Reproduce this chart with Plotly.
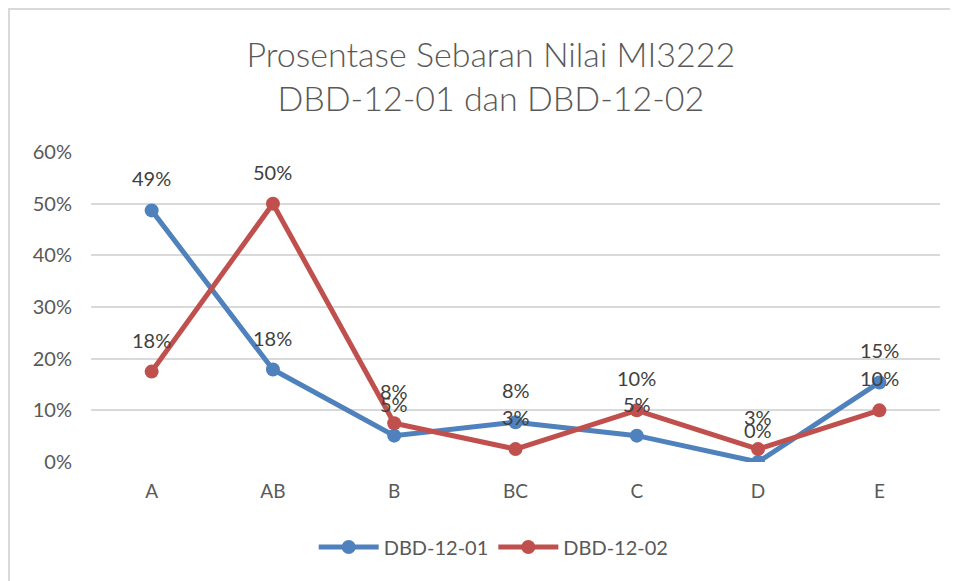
import plotly.graph_objects as go

categories = ["A", "AB", "B", "BC", "C", "D", "E"]
series1_name = "DBD-12-01"
series1 = [0.487, 0.179, 0.051, 0.077, 0.051, 0.0, 0.154]
series2_name = "DBD-12-02"
series2 = [0.175, 0.50, 0.075, 0.025, 0.10, 0.025, 0.10]
y_ticks = [0, 0.1, 0.2, 0.3, 0.4, 0.5, 0.6]

blue = "#4F81BD"
red = "#C0504D"
gray_text = "#595959"
font_family = "Lato, 'Liberation Sans', sans-serif"

fig = go.Figure()
for name, vals, col in [(series1_name, series1, blue), (series2_name, series2, red)]:
    fig.add_trace(go.Scatter(
        x=categories, y=vals, name=name, mode="lines+markers",
        line=dict(color=col, width=5),
        marker=dict(color=col, size=14),
        hoverinfo="skip",
    ))

annotations = []
for vals in [series1, series2]:
    for c, v in zip(categories, vals):
        annotations.append(dict(
            x=c, y=v, xref="x", yref="y", text=f"{int(v * 100 + 0.5)}%",
            showarrow=False, yshift=32,
            font=dict(family=font_family, size=20, color="#404040"),
        ))

fig.update_layout(
    width=958, height=581,
    margin=dict(l=83, r=26, t=144, b=127),
    paper_bgcolor="white", plot_bgcolor="white",
    title=dict(
        text="Prosentase Sebaran Nilai MI3222<br>DBD-12-01 dan DBD-12-02",
        x=0.504, xanchor="center", xref="container",
        y=1 - 59 / 581, yanchor="middle", yref="container",
        font=dict(family=font_family, size=34, color=gray_text, weight=300),
    ),
    xaxis=dict(
        type="category", range=[-0.5, 6.5],
        showgrid=False, showline=False, zeroline=False, ticks="",
        ticklabelstandoff=16,
        tickfont=dict(family=font_family, size=19, color=gray_text),
    ),
    yaxis=dict(
        range=[0, 0.6], tickvals=y_ticks, tickformat=".0%",
        showgrid=True, gridcolor="#D9D9D9", gridwidth=1.5,
        zeroline=False, showline=False, ticks="",
        ticklabelstandoff=18,
        tickfont=dict(family=font_family, size=20, color=gray_text),
    ),
    legend=dict(
        orientation="h", x=0.507, xref="container", xanchor="center",
        y=1 - 539 / 581, yref="container", yanchor="middle",
        font=dict(family=font_family, size=20, color=gray_text),
        itemwidth=60,
    ),
    annotations=annotations,
    shapes=[dict(
        type="rect", xref="paper", yref="paper",
        x0=(1 - 83) / 849, x1=(960 - 83) / 849,
        y0=(454 - 600) / 310, y1=(454 - 1) / 310,
        line=dict(color="#D9D9D9", width=2), layer="below",
    )],
)

fig.write_html("out.html")
